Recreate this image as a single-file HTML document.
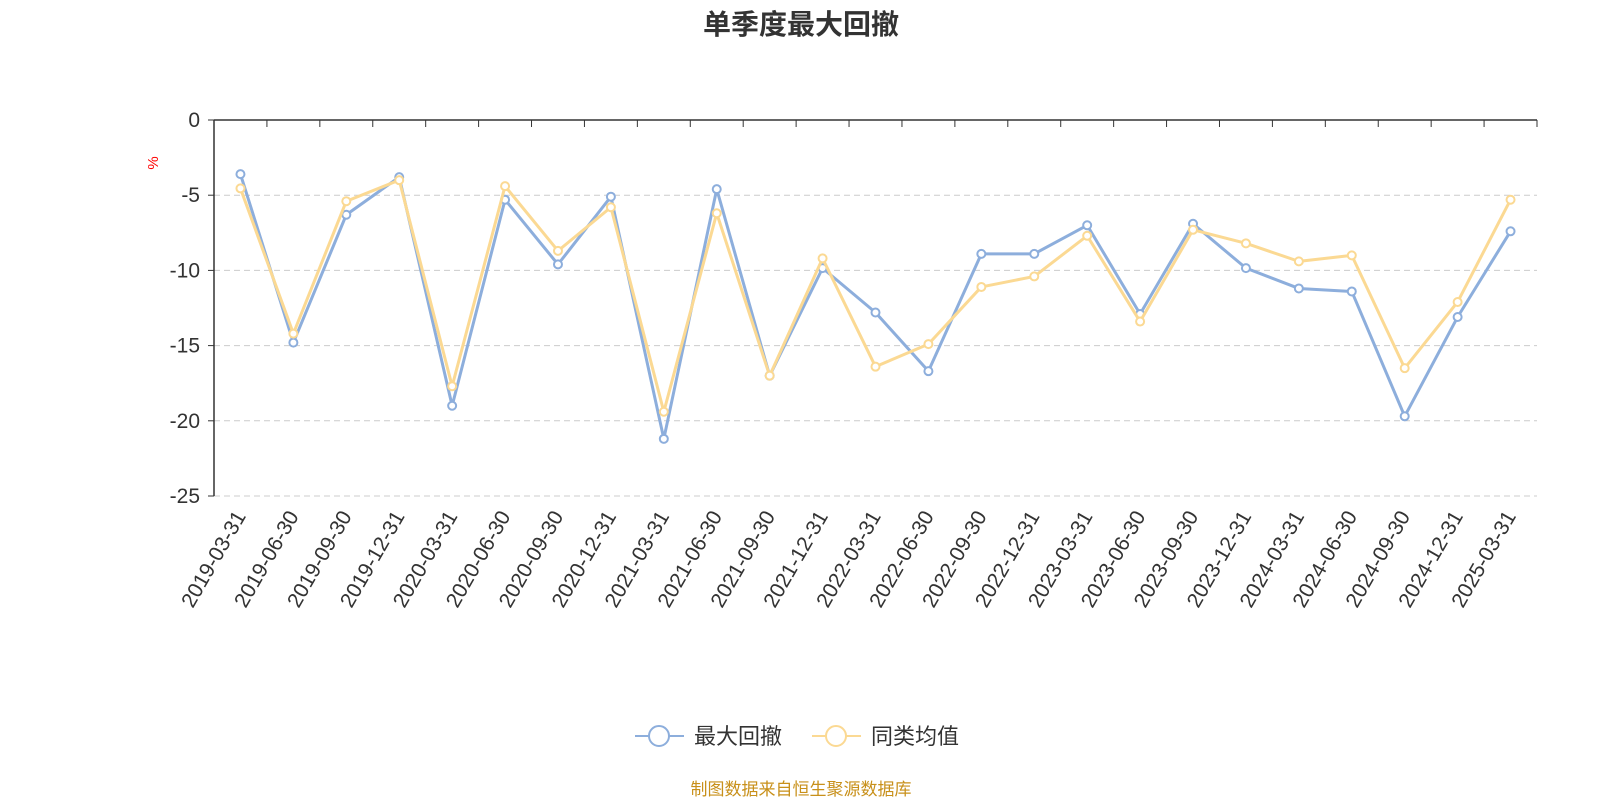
<!DOCTYPE html>
<html><head><meta charset="utf-8"><style>
html,body{margin:0;padding:0;background:#fff;}
svg text{font-family:"Liberation Sans","Noto Sans CJK SC",sans-serif;}
</style></head><body>
<svg id="chart" width="1600" height="800" xmlns="http://www.w3.org/2000/svg">
<text x="801" y="34" text-anchor="middle" font-size="28" font-weight="bold" fill="#333">单季度最大回撤</text>
<text x="158" y="163" font-size="15" fill="red" transform="rotate(-90 158 163)" text-anchor="middle">%</text>
<g id="grid"></g><g id="axes"></g><g id="series"></g>
<g>
<g>
<line x1="635" y1="736" x2="684" y2="736" stroke="#8daedc" stroke-width="2"/>
<circle cx="659" cy="736" r="10" fill="#fff" stroke="#8daedc" stroke-width="2"/>
<text x="694" y="744" font-size="22" fill="#333">最大回撤</text></g>
<g>
<line x1="812" y1="736" x2="861" y2="736" stroke="#fbd993" stroke-width="2"/>
<circle cx="836" cy="736" r="10" fill="#fff" stroke="#fbd993" stroke-width="2"/>
<text x="871" y="744" font-size="22" fill="#333">同类均值</text></g>
</g>
<text x="801" y="795" text-anchor="middle" font-size="17" fill="#c8901a">制图数据来自恒生聚源数据库</text>
</svg>
<script>
const categories=["2019-03-31","2019-06-30","2019-09-30","2019-12-31","2020-03-31","2020-06-30","2020-09-30","2020-12-31","2021-03-31","2021-06-30","2021-09-30","2021-12-31","2022-03-31","2022-06-30","2022-09-30","2022-12-31","2023-03-31","2023-06-30","2023-09-30","2023-12-31","2024-03-31","2024-06-30","2024-09-30","2024-12-31","2025-03-31"];
const maxDrawdown=[-3.6,-14.8,-6.3,-3.8,-19.0,-5.3,-9.6,-5.1,-21.2,-4.6,-17.0,-9.85,-12.8,-16.7,-8.9,-8.9,-7.0,-12.9,-6.9,-9.85,-11.2,-11.4,-19.7,-13.1,-7.4];
const peerAverage=[-4.55,-14.2,-5.4,-4.0,-17.7,-4.4,-8.7,-5.8,-19.4,-6.2,-17.0,-9.2,-16.4,-14.9,-11.1,-10.4,-7.7,-13.4,-7.3,-8.2,-9.4,-9.0,-16.5,-12.1,-5.3];
const yTicks=[0,-5,-10,-15,-20,-25];
const NS="http://www.w3.org/2000/svg";
const X0=214,X1=1537,Y0=120,Y1=496;
const band=(X1-X0)/categories.length;
function xPos(i){return X0+band*(i+0.5);}
function yPos(v){return Y0+(0-v)/25*(Y1-Y0);}
function mk(tag,attrs,parent){const e=document.createElementNS(NS,tag);for(const k in attrs)e.setAttribute(k,attrs[k]);parent.appendChild(e);return e;}
const grid=document.getElementById('grid'),axes=document.getElementById('axes'),ser=document.getElementById('series');
yTicks.forEach(t=>{const y=yPos(t);
 if(t!==0){const g=mk('line',{x1:X0,x2:X1,y1:y,y2:y,stroke:'#ccc','stroke-dasharray':'6,4'},grid);
 
 }
 const tk=mk('line',{x1:X0-6,x2:X0,y1:y,y2:y,stroke:'#333'},axes);
 
 
 const tx=mk('text',{x:X0-14,y:y+7,'text-anchor':'end','font-size':21,fill:'#333'},axes);tx.textContent=t;
 
 
});
const ya=mk('line',{x1:X0,x2:X0,y1:Y0,y2:Y1,stroke:'#333','stroke-width':1.5},axes);


const xa=mk('line',{x1:X0,x2:X1,y1:Y0,y2:Y0,stroke:'#333','stroke-width':1.5},axes);


for(let i=0;i<=categories.length;i++){const x=X0+band*i;
 const tk=mk('line',{x1:x,x2:x,y1:Y0,y2:Y0+7,stroke:'#333'},axes);
 
 }
categories.forEach((c,i)=>{const x=xPos(i),y=Y1+20;
 const t=mk('text',{x:x+6,y:y,'text-anchor':'end','font-size':21,fill:'#333',transform:`rotate(-60 ${x+6} ${y})`},axes);t.textContent=c;
 
 
});
function drawSeries(vals,color,name){
 const g=mk('g',{},ser);
 
 
 const p=mk('polyline',{points:vals.map((v,i)=>xPos(i)+','+yPos(v)).join(' '),fill:'none',stroke:color,'stroke-width':3,'stroke-linejoin':'round'},g);
 
 
 vals.forEach((v,i)=>{const c=mk('circle',{cx:xPos(i),cy:yPos(v),r:4,fill:'#fff',stroke:color,'stroke-width':2},g);
 
 });
}
drawSeries(maxDrawdown,'#8daedc','max-drawdown');
drawSeries(peerAverage,'#fbd993','peer-average');
</script>
</body></html>
